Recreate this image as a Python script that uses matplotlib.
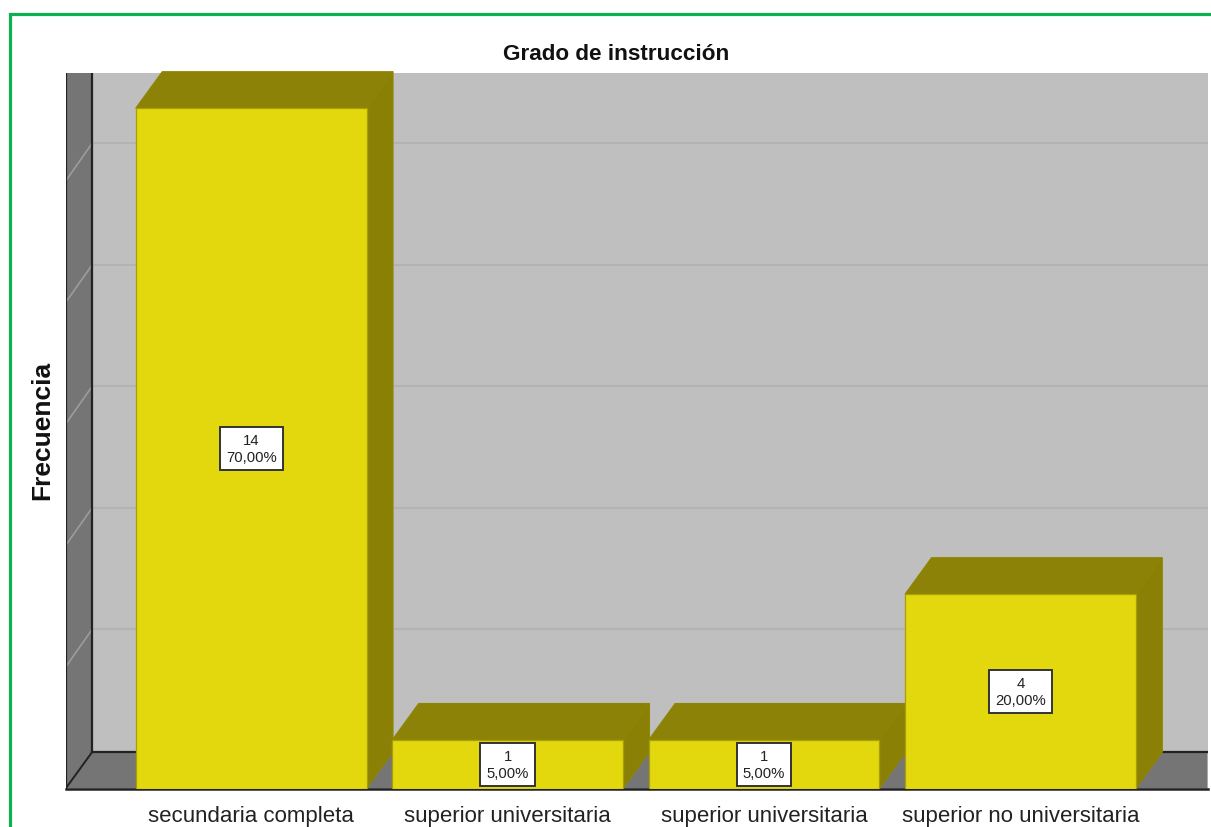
import matplotlib
matplotlib.use("Agg")
import matplotlib.pyplot as plt
from matplotlib.patches import Polygon, Rectangle

# Datos del grafico
categorias = ["secundaria completa", "superior universitaria",
              "superior universitaria", "superior no universitaria"]
frecuencias = [14, 1, 1, 4]
porcentajes = ["70,00%", "5,00%", "5,00%", "20,00%"]
marcas_y = [0, 2.5, 5, 7.5, 10, 12.5]

plt.rcParams["font.family"] = ["Liberation Sans", "DejaVu Sans"]

ANCHO, ALTO = 1211, 828
fig = plt.figure(figsize=(ANCHO / 100, ALTO / 100), dpi=100, facecolor="white")

# Ejes en la zona de la pseudo 3D
ax = fig.add_axes([65.6 / ANCHO, (ALTO - 789.6) / ALTO, 1142 / ANCHO, 716 / ALTO])
x_ini, x_fin = -0.7235, 3.73
y_fin = 716 / 48.6
ax.set_xlim(x_ini, x_fin)
ax.set_ylim(0, y_fin)
ax.axis("off")

# Profundidad del efecto 3D
dx = 26.5 / 256.4
dy = 36.5 / 48.6
dy_rejilla = 37.7 / 48.6
ancho_barra = 0.9

gris_pared = "#757575"
gris_fondo = "#BFBFBF"
amarillo = "#E3D80D"
oliva_top = "#8C8208"
oliva_lado = "#8A8005"
borde = "#8E8600"

# Fondo, pared lateral y piso
ax.add_patch(Rectangle((x_ini + dx, dy), x_fin - x_ini - dx, y_fin - dy, fc=gris_fondo, ec="none", zorder=1))
ax.add_patch(Polygon([(x_ini, 0), (x_ini + dx, dy), (x_ini + dx, y_fin), (x_ini, y_fin)],
                     fc=gris_pared, ec="none", zorder=1))
ax.add_patch(Polygon([(x_ini, 0), (x_ini + dx, dy), (x_fin, dy), (x_fin, 0)],
                     fc=gris_pared, ec="none", zorder=1))

# Lineas de rejilla
for v in marcas_y[1:]:
    ax.plot([x_ini + dx, x_fin], [v + dy_rejilla, v + dy_rejilla], color="#B3B3B3", lw=1.5, zorder=2)
    ax.plot([x_ini, x_ini + dx], [v, v + dy_rejilla], color="#9C9C9C", lw=1.2, zorder=2)

# Bordes negros
negro = "#222222"
ax.plot([x_ini, x_ini], [0, y_fin], color=negro, lw=1.6, zorder=3)
ax.plot([x_ini + dx, x_ini + dx], [dy, y_fin], color=negro, lw=1.6, zorder=3)
ax.plot([x_ini, x_ini + dx], [0, dy], color=negro, lw=1.4, zorder=3)
ax.plot([x_ini + dx, x_fin], [dy, dy], color=negro, lw=1.6, zorder=3)
ax.plot([x_ini, x_fin], [0, 0], color=negro, lw=1.8, zorder=3, clip_on=False)

# Barras
for i, v in enumerate(frecuencias):
    izq = i - ancho_barra / 2
    der = i + ancho_barra / 2
    ax.add_patch(Polygon([(izq, v), (izq + dx, v + dy), (der + dx, v + dy), (der, v)],
                         fc=oliva_top, ec=borde, lw=0.8, zorder=4, clip_on=False))
    ax.add_patch(Polygon([(der, 0), (der + dx, dy), (der + dx, v + dy), (der, v)],
                         fc=oliva_lado, ec=borde, lw=0.8, zorder=4, clip_on=False))
    ax.add_patch(Rectangle((izq, 0), ancho_barra, v, fc=amarillo, ec="#A89F06", lw=0.9, zorder=5))
    ax.text(i, v / 2, f"{v}\n{porcentajes[i]}", ha="center", va="center", fontsize=10.7,
            color="#222222", linespacing=1.25, zorder=7,
            bbox=dict(boxstyle="square,pad=0.42", fc="white", ec="#333333", lw=1.4))
    ax.text(i, -27 / 48.6, categorias[i], ha="center", va="center", fontsize=16,
            color="#222222", clip_on=False)

# Titulos
fig.text(616 / ANCHO, 1 - 55 / ALTO, "Grado de instrucción", ha="center", va="center",
         fontsize=16.2, fontweight="bold", color="#111111")
fig.text(42 / ANCHO, 1 - 430.5 / ALTO, "Frecuencia", ha="center", va="center", rotation=90,
         fontsize=19, fontweight="bold", color="#111111")

# Marco verde
verde = "#0BB14F"
fig.add_artist(plt.Line2D([10.5 / ANCHO, 10.5 / ANCHO, 1], [0, 1 - 14.5 / ALTO, 1 - 14.5 / ALTO],
                          color=verde, lw=2.3, solid_joinstyle="miter"))

fig.savefig("out.png", dpi=100)
